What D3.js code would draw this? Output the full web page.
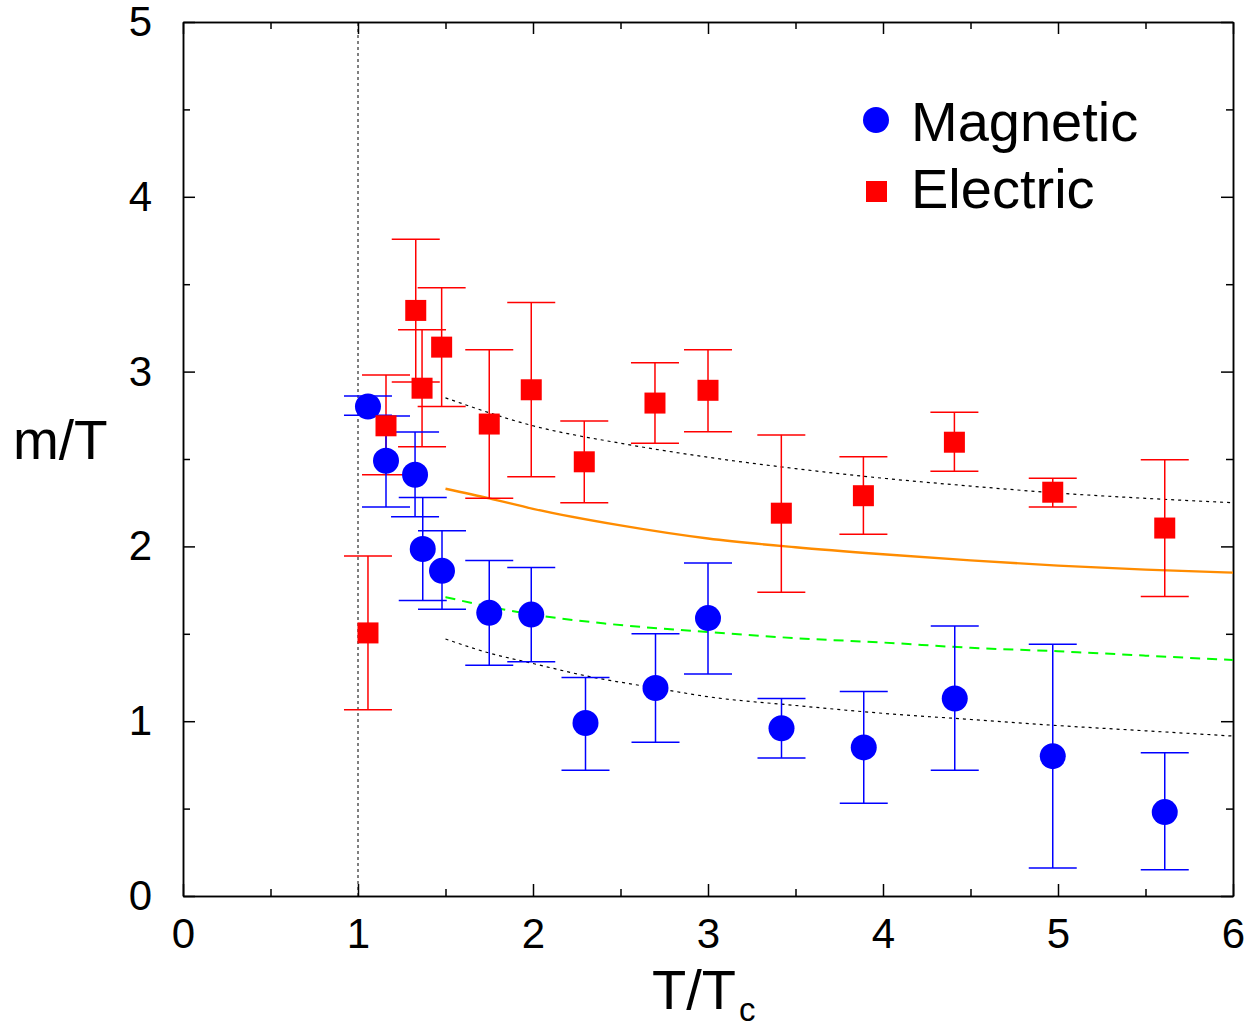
<!DOCTYPE html>
<html>
<meta charset="utf-8">
<style>
body { margin: 0; background: #fff; }
svg text { font-family: "Liberation Sans", Arial, sans-serif; }
</style>
<script src="https://d3js.org/d3.v7.min.js"></script>
<body>
<div id="chart"></div>
<script>
// values
var magX  = [1.057, 1.16, 1.326, 1.37, 1.48, 1.75, 1.99, 2.30, 2.70, 3.00, 3.42, 3.89, 4.41, 4.97, 5.61];
var magY  = [2.80, 2.49, 2.41, 1.985, 1.86, 1.62, 1.61, 0.99, 1.19, 1.59, 0.96, 0.85, 1.13, 0.80, 0.48];
var magHi = [2.86, 2.746, 2.655, 2.28, 2.09, 1.92, 1.88, 1.25, 1.50, 1.905, 1.13, 1.17, 1.545, 1.44, 0.82];
var magLo = [2.75, 2.225, 2.17, 1.69, 1.64, 1.32, 1.34, 0.72, 0.88, 1.27, 0.79, 0.53, 0.72, 0.16, 0.15];

var eleX  = [1.057, 1.16, 1.33, 1.366, 1.478, 1.75, 1.99, 2.293, 2.697, 3.00, 3.419, 3.888, 4.408, 4.97, 5.61];
var eleY  = [1.505, 2.69, 3.35, 2.905, 3.14, 2.70, 2.896, 2.484, 2.82, 2.893, 2.19, 2.29, 2.596, 2.31, 2.105];
var eleHi = [1.945, 2.98, 3.757, 3.24, 3.48, 3.125, 3.396, 2.717, 3.05, 3.125, 2.638, 2.513, 2.767, 2.39, 2.496];
var eleLo = [1.065, 2.41, 2.94, 2.57, 2.80, 2.275, 2.398, 2.25, 2.59, 2.656, 1.737, 2.07, 2.43, 2.225, 1.714];

// fit curves
var upperDotted = [[1.5, 2.85], [2, 2.69], [2.5, 2.59], [3, 2.51], [3.5, 2.445], [4, 2.39], [4.5, 2.345], [5, 2.305], [5.5, 2.275], [6, 2.25]];
var orangeLine  = [[1.5, 2.33], [1.75, 2.275], [2, 2.215], [2.5, 2.12], [3, 2.045], [3.5, 1.995], [4, 1.955], [4.5, 1.92], [5, 1.89], [5.5, 1.867], [6, 1.85]];
var greenDashed = [[1.5, 1.71], [1.75, 1.655], [2, 1.61], [2.4, 1.56], [3, 1.51], [3.5, 1.475], [4, 1.45], [4.5, 1.42], [5, 1.40], [5.5, 1.375], [6, 1.35]];
var lowerDotted = [[1.5, 1.47], [1.75, 1.39], [2, 1.33], [2.3, 1.26], [2.7, 1.19], [3, 1.14], [3.5, 1.09], [4, 1.045], [4.5, 1.01], [5, 0.975], [5.5, 0.945], [6, 0.915]];

var xTicks = [0, 1, 2, 3, 4, 5, 6];
var yTicks = [0, 1, 2, 3, 4, 5];
var xMinor = [0.5, 1.5, 2.5, 3.5, 4.5, 5.5];
var yMinor = [0.5, 1.5, 2.5, 3.5, 4.5];

var W = 1249, H = 1026;
var margin = { top: 22, left: 183, right: 16, bottom: 130 };

var svg = d3.select("#chart").append("svg")
    .attr("width", W)
    .attr("height", H);

var x = d3.scaleLinear().domain([0, 6]).range([margin.left, W - margin.right]);
var y = d3.scaleLinear().domain([0, 5]).range([H - margin.bottom, margin.top]);

// axes with inward ticks
function styleAxis(g) {
    g.select(".domain").attr("stroke", "#000").attr("stroke-width", 1.5);
    g.selectAll(".tick line").attr("stroke", "#000").attr("stroke-width", 1.5);
    g.selectAll("text").attr("font-size", 42).attr("fill", "#000")
        .attr("font-family", "'Liberation Sans', Arial, sans-serif");
}

svg.append("g").attr("transform", "translate(0," + y(0) + ")")
    .call(d3.axisBottom(x).tickValues(xTicks).tickSize(-12).tickPadding(22).tickSizeOuter(0).tickFormat(d3.format("d")))
    .call(styleAxis);
svg.append("g").attr("transform", "translate(0," + y(0) + ")")
    .call(d3.axisBottom(x).tickValues(xMinor).tickSize(-7).tickFormat("").tickSizeOuter(0))
    .call(styleAxis);
svg.append("g").attr("transform", "translate(0," + y(5) + ")")
    .call(d3.axisTop(x).tickValues(xTicks).tickSize(-12).tickFormat("").tickSizeOuter(0))
    .call(styleAxis);
svg.append("g").attr("transform", "translate(0," + y(5) + ")")
    .call(d3.axisTop(x).tickValues(xMinor).tickSize(-7).tickFormat("").tickSizeOuter(0))
    .call(styleAxis);

svg.append("g").attr("transform", "translate(" + x(0) + ",0)")
    .call(d3.axisLeft(y).tickValues(yTicks).tickSize(-12).tickPadding(31).tickSizeOuter(0).tickFormat(d3.format("d")))
    .call(styleAxis);
svg.append("g").attr("transform", "translate(" + x(0) + ",0)")
    .call(d3.axisLeft(y).tickValues(yMinor).tickSize(-7).tickFormat("").tickSizeOuter(0))
    .call(styleAxis);
svg.append("g").attr("transform", "translate(" + x(6) + ",0)")
    .call(d3.axisRight(y).tickValues(yTicks).tickSize(-12).tickFormat("").tickSizeOuter(0))
    .call(styleAxis);
svg.append("g").attr("transform", "translate(" + x(6) + ",0)")
    .call(d3.axisRight(y).tickValues(yMinor).tickSize(-7).tickFormat("").tickSizeOuter(0))
    .call(styleAxis);

// vertical dotted line at T = Tc
svg.append("line")
    .attr("x1", x(1)).attr("x2", x(1))
    .attr("y1", y(0)).attr("y2", y(5))
    .attr("stroke", "#000").attr("stroke-width", 1)
    .attr("stroke-dasharray", "3,3");

// curves
var line = d3.line().x(function(d) { return x(d[0]); }).y(function(d) { return y(d[1]); }).curve(d3.curveMonotoneX);

svg.append("path").datum(upperDotted).attr("d", line)
    .attr("fill", "none").attr("stroke", "#000").attr("stroke-width", 1.2).attr("stroke-dasharray", "3,4");
svg.append("path").datum(lowerDotted).attr("d", line)
    .attr("fill", "none").attr("stroke", "#000").attr("stroke-width", 1.2).attr("stroke-dasharray", "3,4");
svg.append("path").datum(orangeLine).attr("d", line)
    .attr("fill", "none").attr("stroke", "#ff8c00").attr("stroke-width", 2.4);
svg.append("path").datum(greenDashed).attr("d", line)
    .attr("fill", "none").attr("stroke", "#00ff00").attr("stroke-width", 2).attr("stroke-dasharray", "10,7");

// error bars
var capW = 24;
function errorBars(xs, lo, hi, color) {
    var g = svg.append("g").attr("stroke", color).attr("stroke-width", 1.5);
    xs.forEach(function(xv, i) {
        g.append("line").attr("x1", x(xv)).attr("x2", x(xv)).attr("y1", y(lo[i])).attr("y2", y(hi[i]));
        g.append("line").attr("x1", x(xv) - capW).attr("x2", x(xv) + capW).attr("y1", y(lo[i])).attr("y2", y(lo[i]));
        g.append("line").attr("x1", x(xv) - capW).attr("x2", x(xv) + capW).attr("y1", y(hi[i])).attr("y2", y(hi[i]));
    });
}
errorBars(eleX, eleLo, eleHi, "#ff0000");
errorBars(magX, magLo, magHi, "#0000ff");

// markers
svg.append("g").selectAll("circle")
    .data(magX)
    .enter()
    .append("circle")
    .attr("cx", function(d) { return x(d); })
    .attr("cy", function(d, i) { return y(magY[i]); })
    .attr("r", 13)
    .attr("fill", "#0000ff");

var sq = 21;
svg.append("g").selectAll("rect")
    .data(eleX)
    .enter()
    .append("rect")
    .attr("x", function(d) { return x(d) - sq / 2; })
    .attr("y", function(d, i) { return y(eleY[i]) - sq / 2; })
    .attr("width", sq)
    .attr("height", sq)
    .attr("fill", "#ff0000");

// legend
svg.append("circle").attr("cx", 876).attr("cy", 120).attr("r", 13).attr("fill", "#0000ff");
svg.append("text").attr("x", 911).attr("y", 141).attr("font-size", 56).text("Magnetic");
svg.append("rect").attr("x", 866).attr("y", 181).attr("width", sq).attr("height", sq).attr("fill", "#ff0000");
svg.append("text").attr("x", 911).attr("y", 208).attr("font-size", 56).text("Electric");

// axis labels
svg.append("text").attr("x", 13).attr("y", 459).attr("font-size", 55).text("m/T");
var xl = svg.append("text").attr("x", 652).attr("y", 1009).attr("font-size", 56);
xl.append("tspan").text("T/T");
xl.append("tspan").attr("font-size", 33).attr("dx", 3).attr("dy", 12).text("c");
</script>
</body>
</html>
